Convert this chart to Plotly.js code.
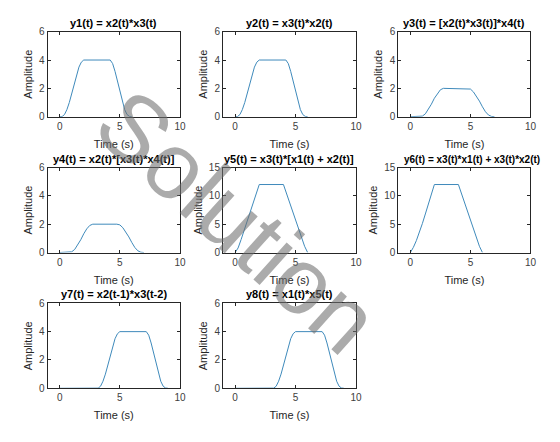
<!DOCTYPE html>
<html>
<head>
<meta charset="utf-8">
<script src="https://cdn.plot.ly/plotly-3.0.1.min.js"></script>
<style>html,body{margin:0;padding:0;background:#fff}#chart{width:560px;height:442px}</style>
</head>
<body>
<div id="chart"></div>
<script>
// ---- data ----
const tA = [0, 0.2, 0.4, 0.6, 0.8, 1.0, 1.2, 1.4, 1.6, 1.8, 2.0, 4.2, 4.4, 4.6, 4.8, 5.0, 5.2, 5.4, 5.6, 5.8, 6.0];
const y1 = [0, 0.01, 0.15, 0.5, 1.0, 1.6, 2.3, 2.95, 3.5, 3.85, 4.0, 4.0, 3.75, 3.2, 2.5, 1.75, 1.05, 0.5, 0.15, 0.02, 0];
const y2 = [0, 0.01, 0.15, 0.5, 1.0, 1.6, 2.3, 2.95, 3.5, 3.85, 4.0, 4.0, 3.75, 3.2, 2.5, 1.75, 1.05, 0.5, 0.15, 0.02, 0];

const tB = [0, 0.5, 0.75, 1.0, 1.25, 1.5, 1.75, 2.0, 2.25, 2.5, 2.75, 4.75, 5.0, 5.25, 5.5, 5.75, 6.0, 6.25, 6.5, 6.75, 7.0];
const y3 = [0, 0, 0.01, 0.04, 0.2, 0.5, 0.88, 1.3, 1.65, 1.9, 2.0, 2.0, 1.95, 1.75, 1.45, 1.1, 0.7, 0.35, 0.12, 0.02, 0];
const y4 = [0, 0, 0.01, 0.05, 0.22, 0.52, 0.9, 1.32, 1.67, 1.91, 2.0, 2.0, 1.95, 1.75, 1.45, 1.1, 0.7, 0.35, 0.12, 0.02, 0];

const tC = [0, 0.25, 0.5, 0.75, 1.0, 1.25, 1.5, 1.75, 2.0, 4.0, 4.25, 4.5, 4.75, 5.0, 5.25, 5.5, 5.75, 6.0];
const y5 = [0, 0.8, 2.3, 3.9, 5.5, 7.1, 8.7, 10.35, 12, 12, 10.4, 8.8, 7.2, 5.6, 4.0, 2.5, 1.1, 0];
const y6 = [0, 0.9, 2.1, 3.5, 5.1, 6.8, 8.5, 10.25, 12, 12, 10.4, 8.8, 7.2, 5.6, 4.0, 2.5, 1.1, 0];

const tD = [0, 3.0, 3.2, 3.4, 3.6, 3.8, 4.0, 4.2, 4.4, 4.6, 4.8, 5.0, 7.2, 7.4, 7.6, 7.8, 8.0, 8.2, 8.4, 8.6, 8.8, 9.0];
const y7 = [0, 0, 0.01, 0.15, 0.5, 1.0, 1.6, 2.3, 2.95, 3.5, 3.85, 4.0, 4.0, 3.75, 3.2, 2.5, 1.75, 1.05, 0.5, 0.15, 0.02, 0];
const y8 = [0, 0, 0.01, 0.15, 0.5, 1.0, 1.6, 2.3, 2.95, 3.5, 3.85, 4.0, 4.0, 3.75, 3.2, 2.5, 1.75, 1.05, 0.5, 0.15, 0.02, 0];

const titles = [
  'y1(t) = x2(t)*x3(t)',
  'y2(t) = x3(t)*x2(t)',
  'y3(t) = [x2(t)*x3(t)]*x4(t)',
  'y4(t) = x2(t)*[x3(t)*x4(t)]',
  'y5(t) = x3(t)*[x1(t) + x2(t)]',
  'y6(t) = x3(t)*x1(t) + x3(t)*x2(t)',
  'y7(t) = x2(t-1)*x3(t-2)',
  'y8(t) = x1(t)*x5(t)'
];
const xTickVals = [0, 5, 10];
const yTicksSmall = [0, 2, 4, 6];
const yTicksLarge = [0, 5, 10, 15];
const watermark = 'Solution';

// ---- layout ----
const series = [[tA,y1],[tA,y2],[tB,y3],[tB,y4],[tC,y5],[tC,y6],[tD,y7],[tD,y8]];
const yMax = [6,6,6,6,15,15,6,6];
const colDom = [[0.0851,0.3214],[0.3982,0.6357],[0.7113,0.9473]];
const rowDom = [[0.7360,0.9283],[0.4287,0.6210],[0.1215,0.3138]];
const FONT = 'Liberation Sans, Arial, Helvetica, sans-serif';
const lineCol = '#3f8abb';
const axCol = '#262626';

const data = [];
const layout = {
  width: 560, height: 442,
  margin: {l:0, r:0, t:0, b:0},
  paper_bgcolor: '#ffffff', plot_bgcolor: '#ffffff',
  showlegend: false,
  font: {family: FONT, size: 10, color: '#262626'},
  annotations: []
};

series.forEach((s, i) => {
  const r = Math.floor(i / 3), c = i % 3;
  const n = i + 1;
  const xa = n === 1 ? 'x' : 'x' + n;
  const ya = n === 1 ? 'y' : 'y' + n;
  data.push({x: s[0], y: s[1], xaxis: xa, yaxis: ya, type: 'scatter', mode: 'lines',
             line: {color: lineCol, width: 1}, hoverinfo: 'skip'});
  const common = {
    showline: true, linecolor: axCol, linewidth: 1, mirror: 'ticks',
    ticks: 'inside', ticklen: 3, tickwidth: 1, tickcolor: axCol,
    showgrid: false, zeroline: false, fixedrange: true,
    tickfont: {family: FONT, size: 10, color: '#404040'}
  };
  layout['xaxis' + (n === 1 ? '' : n)] = Object.assign({}, common, {
    domain: colDom[c], anchor: ya, range: [-1, 10],
    tickmode: 'array', tickvals: xTickVals,
    title: {text: 'Time (s)', font: {family: FONT, size: 11, color: '#262626'}, standoff: 9}
  });
  layout['yaxis' + (n === 1 ? '' : n)] = Object.assign({}, common, {
    domain: rowDom[r], anchor: xa, range: [0, yMax[i]],
    tickmode: 'array', tickvals: yMax[i] === 6 ? yTicksSmall : yTicksLarge,
    title: {text: 'Amplitude', font: {family: FONT, size: 11, color: '#262626'}, standoff: 4}
  });
  const isLong = (i === 5);
  layout.annotations.push({
    text: '<b>' + titles[i] + '</b>', xref: 'paper', yref: 'paper',
    x: isLong ? 0.842 : (colDom[c][0] + colDom[c][1]) / 2, y: rowDom[r][1],
    xanchor: 'center', yanchor: 'bottom', yshift: 1, showarrow: false,
    font: {family: FONT, size: isLong ? 10 : 11, color: '#000000'}
  });
});

layout.annotations.push({
  text: watermark, xref: 'paper', yref: 'paper', x: 0.425, y: 0.5,
  xanchor: 'center', yanchor: 'middle', showarrow: false, textangle: 42,
  font: {family: FONT, size: 94, color: 'rgba(110,110,110,0.58)'}
});

Plotly.newPlot('chart', data, layout, {staticPlot: true, displayModeBar: false});
</script>
</body>
</html>
